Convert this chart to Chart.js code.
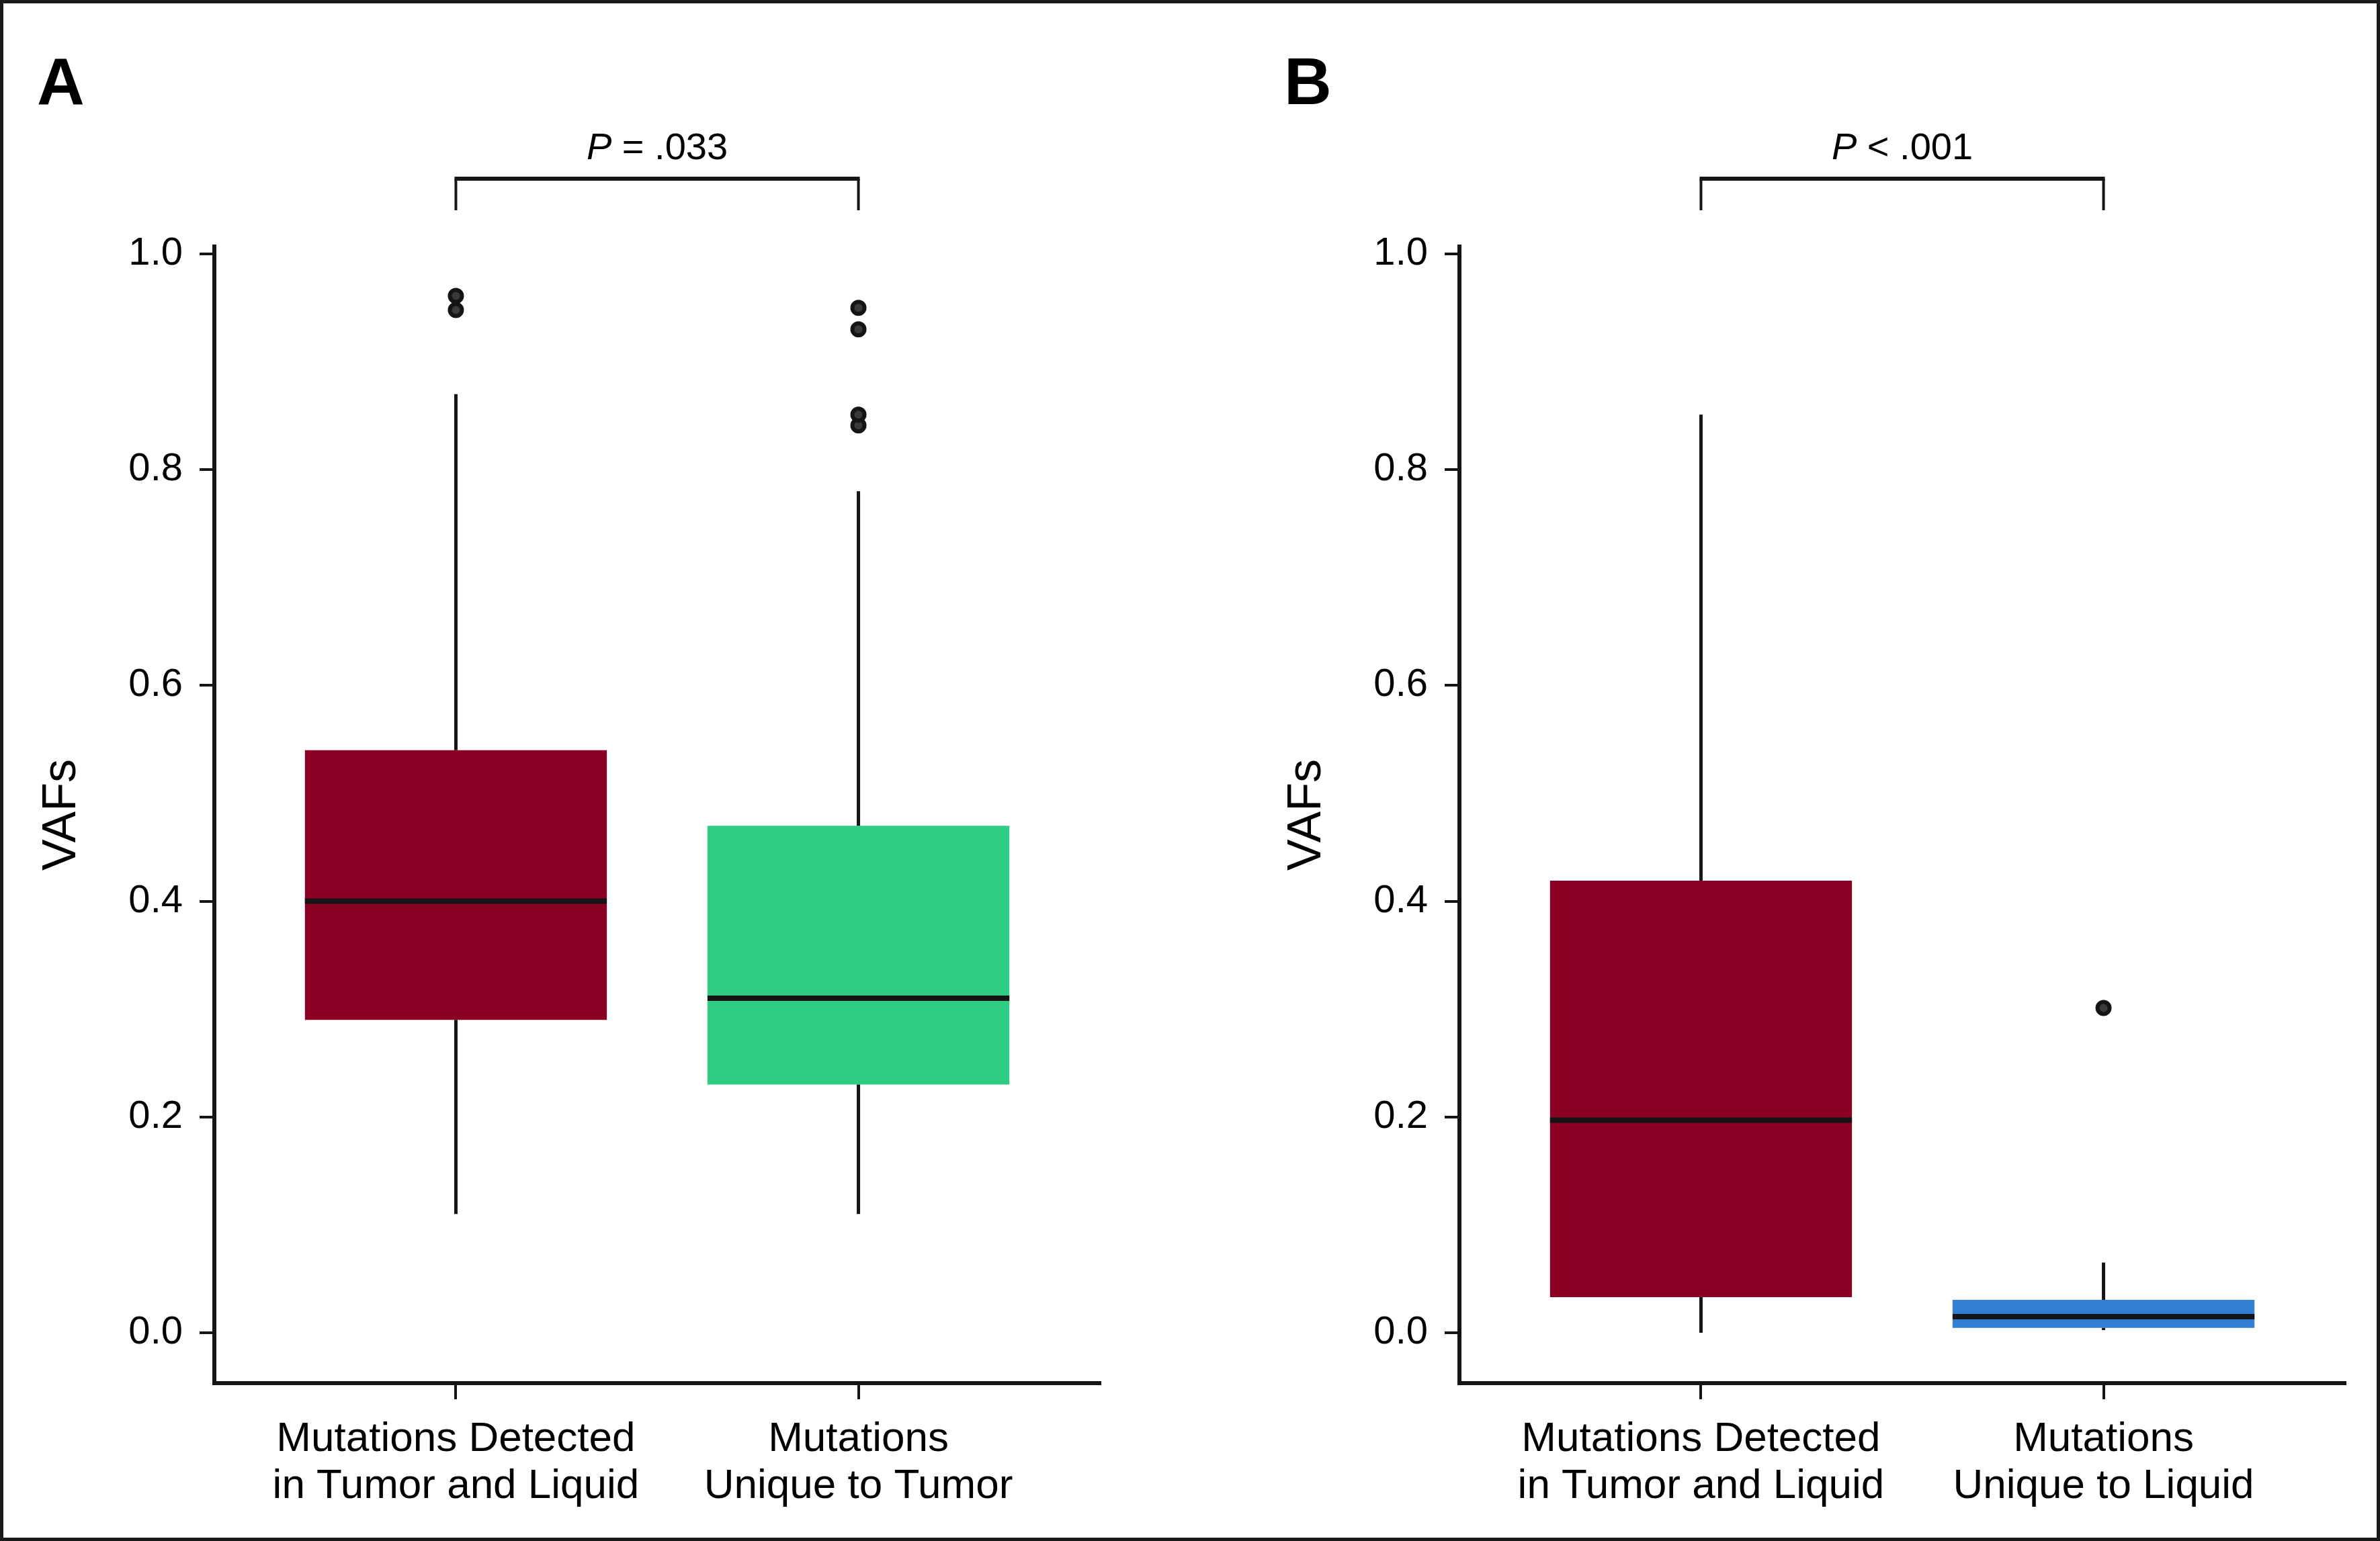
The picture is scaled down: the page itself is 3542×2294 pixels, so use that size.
<!DOCTYPE html>
<html><head><meta charset="utf-8">
<script src="https://cdn.jsdelivr.net/npm/chart.js@4.4.1/dist/chart.umd.min.js"></script>
<style>
html,body{margin:0;padding:0;background:#fff;}
#wrap{position:relative;width:3542px;height:2294px;overflow:hidden;background:#fff;}
canvas{position:absolute;top:0;}
#frame{position:absolute;left:0;top:0;width:3542px;height:2294px;box-sizing:border-box;border:5px solid #1b1b1b;pointer-events:none;}
</style></head><body>
<div id="wrap">
<canvas id="cA" width="1700" height="2294" style="left:0px"></canvas>
<canvas id="cB" width="1689" height="2294" style="left:1853px"></canvas>
<div id="frame"></div>
</div>
<script>
// ---- data ----
const yTicks = [0, 0.2, 0.4, 0.6, 0.8, 1.0];
const yLabel = 'VAFs';
const labelsA = [['Mutations Detected', 'in Tumor and Liquid'], ['Mutations', 'Unique to Tumor']];
const labelsB = [['Mutations Detected', 'in Tumor and Liquid'], ['Mutations', 'Unique to Liquid']];
const colorsA = ['#8a0124', '#2fcd84'];
const colorsB = ['#8a0124', '#337ed5'];
const lowA = [0.11, 0.11];
const q1A = [0.29, 0.23];
const medA = [0.40, 0.31];
const q3A = [0.54, 0.47];
const highA = [0.87, 0.78];
const outA = [[0.948, 0.961], [0.841, 0.851, 0.930, 0.950]];
const lowB = [0.0, 0.0025];
const q1B = [0.033, 0.0045];
const medB = [0.197, 0.015];
const q3B = [0.419, 0.0305];
const highB = [0.851, 0.065];
const outB = [[], [0.301]];
const pTextA = ['P', ' = .033'];
const pTextB = ['P', ' < .001'];

const FONT = '"Liberation Sans", Arial, Helvetica, sans-serif';
const INK = '#151515';
Chart.defaults.font.family = FONT;

const boxExtras = {
  id: 'boxExtras',
  afterDatasetsDraw(chart, args, opts) {
    const {ctx, scales: {x, y}} = chart;
    const meta = chart.getDatasetMeta(0);
    ctx.save();
    ctx.strokeStyle = opts.color;
    ctx.lineCap = 'butt';
    meta.data.forEach((bar, i) => {
      const px = x.getPixelForValue(i);
      ctx.lineWidth = opts.whiskerWidth;
      ctx.beginPath();
      ctx.moveTo(px, y.getPixelForValue(opts.q3[i]));
      ctx.lineTo(px, y.getPixelForValue(opts.high[i]));
      ctx.moveTo(px, y.getPixelForValue(opts.q1[i]));
      ctx.lineTo(px, y.getPixelForValue(opts.low[i]));
      ctx.stroke();
      ctx.lineWidth = opts.medianWidth;
      const my = y.getPixelForValue(opts.med[i]);
      ctx.beginPath();
      ctx.moveTo(bar.x - bar.width / 2, my);
      ctx.lineTo(bar.x + bar.width / 2, my);
      ctx.stroke();
    });
    ctx.restore();
  }
};

const bracket = {
  id: 'bracket',
  afterDraw(chart, args, opts) {
    const {ctx, chartArea, scales: {x}} = chart;
    const x0 = x.getPixelForValue(0), x1 = x.getPixelForValue(1);
    const yTop = chartArea.top - opts.barOffset, yLeg = chartArea.top - opts.legOffset;
    ctx.save();
    ctx.strokeStyle = opts.color;
    ctx.lineWidth = opts.legWidth;
    ctx.beginPath();
    ctx.moveTo(x0, yTop); ctx.lineTo(x0, yLeg);
    ctx.moveTo(x1, yTop); ctx.lineTo(x1, yLeg);
    ctx.stroke();
    ctx.lineWidth = opts.barWidth;
    ctx.beginPath();
    ctx.moveTo(x0 - opts.legWidth / 2, yTop); ctx.lineTo(x1 + opts.legWidth / 2, yTop);
    ctx.stroke();
    const italic = `italic ${opts.fontSize}px ${FONT}`, normal = `${opts.fontSize}px ${FONT}`;
    ctx.font = italic; const w1 = ctx.measureText(opts.text[0]).width;
    ctx.font = normal; const w2 = ctx.measureText(opts.text[1]).width;
    const sx = (x0 + x1) / 2 - (w1 + w2) / 2, ty = chartArea.top - opts.textOffset;
    ctx.fillStyle = '#000'; ctx.textAlign = 'left'; ctx.textBaseline = 'alphabetic';
    ctx.font = italic; ctx.fillText(opts.text[0], sx, ty);
    ctx.font = normal; ctx.fillText(opts.text[1], sx + w1, ty);
    ctx.font = `bold ${opts.letterSize}px ${FONT}`;
    ctx.fillText(opts.letter, opts.letterX, opts.letterY);
    ctx.restore();
  }
};

function makeChart(id, labels, colors, low, q1, med, q3, high, out, pText, letter, letterX, rightPad) {
  const axisCommon = {
    grid: {display: true, drawOnChartArea: false, drawTicks: true, tickWidth: 4, lineWidth: 4, color: INK, tickColor: INK, offset: false},
    border: {display: true, width: 6, color: INK}
  };
  return new Chart(document.getElementById(id), {
    type: 'bar',
    data: {
      datasets: [
        {
          type: 'bar',
          data: q1.map((v, i) => ({x: i, y: [v, q3[i]]})),
          backgroundColor: colors,
          borderWidth: 0,
          categoryPercentage: 1,
          barPercentage: 0.75
        },
        {
          type: 'scatter',
          data: out.flatMap((arr, i) => arr.map(v => ({x: i, y: v}))),
          pointRadius: 9,
          pointBorderWidth: 6,
          backgroundColor: '#3a3a3a',
          borderColor: '#141414',
          showLine: false
        }
      ]
    },
    options: {
      responsive: false,
      animation: false,
      devicePixelRatio: 1,
      layout: {padding: {left: 0, right: rightPad, top: 367, bottom: 0}},
      plugins: {
        legend: {display: false},
        tooltip: {enabled: false},
        boxExtras: {low, q1, med, q3, high, color: INK, whiskerWidth: 5, medianWidth: 8},
        bracket: {text: pText, color: INK, barOffset: 101, legOffset: 54, textOffset: 130, barWidth: 6, legWidth: 4, fontSize: 56, letter, letterX, letterY: 155, letterSize: 98}
      },
      scales: {
        x: {
          type: 'linear', min: -0.6, max: 1.6, offset: false,
          afterBuildTicks: s => { s.ticks = labels.map((_, i) => ({value: i})); },
          afterFit: s => { s.height = 235; },
          ticks: {callback: (v, i) => labels[i], font: {size: 62, lineHeight: 1.13}, color: '#000', padding: 25, maxRotation: 0, autoSkip: false},
          grid: Object.assign({}, axisCommon.grid, {tickLength: 24}),
          border: axisCommon.border
        },
        y: {
          type: 'linear', min: -0.0467, max: 1.0068,
          afterBuildTicks: s => { s.ticks = yTicks.map(v => ({value: v})); },
          afterFit: s => { s.width = 319; },
          ticks: {callback: v => v.toFixed(1), font: {size: 58}, color: '#000', padding: 25},
          grid: Object.assign({}, axisCommon.grid, {tickLength: 22}),
          border: axisCommon.border,
          title: {display: true, text: yLabel, font: {size: 70, lineHeight: 1.2}, color: '#000', padding: {top: 51, bottom: 0}}
        }
      }
    },
    plugins: [boxExtras, bracket]
  });
}

makeChart('cA', labelsA, colorsA, lowA, q1A, medA, q3A, highA, outA, pTextA, 'A', 55, 63);
makeChart('cB', labelsB, colorsB, lowB, q1B, medB, q3B, highB, outB, pTextB, 'B', 58, 52);
</script>
</body></html>
